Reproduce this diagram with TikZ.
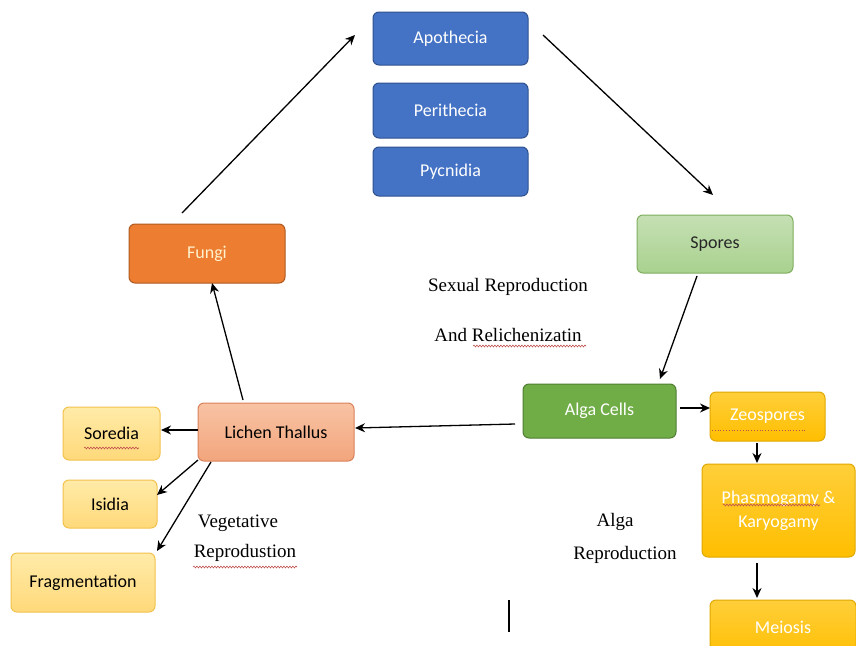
\documentclass[tikz,border=0pt]{standalone}
\usepackage{fontspec}
\setmainfont{Carlito}
\newfontfamily\serifface{Liberation Serif}
\usetikzlibrary{arrows.meta,decorations.pathmorphing}
\definecolor{blueF}{HTML}{4472C4}
\definecolor{blueD}{HTML}{2F528F}
\definecolor{sporeT}{HTML}{C5E0B4}
\definecolor{sporeB}{HTML}{A9D18E}
\definecolor{sporeD}{HTML}{7FAE5E}
\definecolor{fungF}{HTML}{ED7D31}
\definecolor{fungD}{HTML}{AE5A21}
\definecolor{algaF}{HTML}{70AD47}
\definecolor{algaD}{HTML}{507E32}
\definecolor{goldT}{HTML}{FFCF3A}
\definecolor{goldB}{HTML}{FFBE00}
\definecolor{goldD}{HTML}{E0A800}
\definecolor{lichT}{HTML}{F8C3A4}
\definecolor{lichB}{HTML}{F2A57C}
\definecolor{lichD}{HTML}{D9825A}
\definecolor{paleT}{HTML}{FFEBA8}
\definecolor{paleB}{HTML}{FFD97A}
\definecolor{paleD}{HTML}{F2C24E}
\definecolor{cream}{HTML}{FFF2CC}
\definecolor{spell}{HTML}{C0504D}
\begin{document}
\begin{tikzpicture}[x=1pt,y=-1pt,
  box/.style={rounded corners=6pt, line width=1pt, align=center, inner sep=2pt, font=\fontsize{18}{22}\selectfont},
  bluebox/.style={box, fill=blueF, draw=blueD, text=white},
  sporebox/.style={box, top color=sporeT, bottom color=sporeB, draw=sporeD, text=black!85},
  fungbox/.style={box, fill=fungF, draw=fungD, text=cream},
  algabox/.style={box, fill=algaF, draw=algaD, text=white},
  goldbox/.style={box, top color=goldT, bottom color=goldB, draw=goldD, text=white},
  lichbox/.style={box, top color=lichT, bottom color=lichB, draw=lichD, text=black},
  palebox/.style={box, top color=paleT, bottom color=paleB, draw=paleD, text=black},
  lbl/.style={font=\serifface\fontsize{19}{23}\selectfont, text=black, inner sep=0pt},
  arr/.style={-{Stealth[length=10pt,width=9pt]}, line width=1.3pt, black},
  wavy/.style={spell, line width=0.6pt, decorate, decoration={snake, amplitude=0.9pt, segment length=3pt}}
]
\useasboundingbox (0,0) rectangle (856,645);
\fill[white] (0,0) rectangle (856,645);

% top blue boxes
\node[bluebox, minimum width=155pt, minimum height=53pt] (apo) at (450.5,38.5) {Apothecia};
\node[bluebox, minimum width=155pt, minimum height=55pt] (peri) at (450.5,110.5) {Perithecia};
\node[bluebox, minimum width=155pt, minimum height=49pt] (pyc) at (450.5,171.5) {Pycnidia};

\node[sporebox, minimum width=156pt, minimum height=58pt] (spores) at (715,244) {Spores};
\node[fungbox, minimum width=156pt, minimum height=59pt] (fungi) at (207,253.5) {Fungi};
\node[algabox, minimum width=153pt, minimum height=54pt] (alga) at (599.5,411) {Alga Cells};
\node[goldbox, minimum width=115pt, minimum height=49pt] (zeo) at (767.5,416.5) {Zeospores};
\node[goldbox, minimum width=153pt, minimum height=93pt] (phas) at (778.5,510.5) {Phasmogamy \&\\[2pt] Karyogamy};
\node[goldbox, minimum width=146pt, minimum height=60pt, text depth=0pt] (mei) at (783,630) {\raisebox{6pt}{Meiosis}};
\node[lichbox, minimum width=156pt, minimum height=58pt] (lich) at (276,432) {Lichen Thallus};
\node[palebox, minimum width=97pt, minimum height=53pt] (sor) at (111.5,433.5) {Soredia};
\node[palebox, minimum width=94pt, minimum height=48pt] (isi) at (110,504) {Isidia};
\node[palebox, minimum width=144pt, minimum height=59pt] (frag) at (83,582.5) {Fragmentation};

% free-end coordinates
\coordinate (fungiTop) at (182,213);
\coordinate (apoIn) at (355,35);
\coordinate (apoOut) at (543,35);
\coordinate (sporeIn) at (713,195);
\coordinate (sporeOut) at (697,276);
\coordinate (algaIn) at (660,379);
\coordinate (algaL) at (515,424);
\coordinate (lichR) at (355,428);
\coordinate (algaR) at (680,408);
\coordinate (zeoL) at (710,408);
\coordinate (zeoB) at (757,443);
\coordinate (phasT) at (757,463);
\coordinate (phasB) at (757,563);
\coordinate (meiT) at (757,598);
\coordinate (lichT) at (243,400);
\coordinate (fungiB) at (212,283);
\coordinate (lichL) at (198,430);
\coordinate (sorR) at (161,430);
\coordinate (lichBL) at (198,460);
\coordinate (isiR) at (157,495);
\coordinate (lichB2) at (211,462);
\coordinate (fragR) at (157,551);

\draw[arr] (fungiTop) -- (apoIn);
\draw[arr] (apoOut) -- (sporeIn);
\draw[arr] (sporeOut) -- (algaIn);
\draw[arr] (algaL) -- (lichR);
\draw[arr] (algaR) -- (zeoL);
\draw[arr] (zeoB) -- (phasT);
\draw[arr] (phasB) -- (meiT);
\draw[arr] (lichT) -- (fungiB);
\draw[arr] (lichL) -- (sorR);
\draw[arr] (lichBL) -- (isiR);
\draw[arr] (lichB2) -- (fragR);

% stray vertical line
\coordinate (vl1) at (509,600);
\coordinate (vl2) at (509,632);
\draw[line width=1.2pt, black] (vl1) -- (vl2);

% labels
\node[lbl] (sex1) at (508,287) {Sexual Reproduction};
\node[lbl] (sex2) at (508,335) {And Relichenizatin};
\node[lbl] (veg1) at (238,523) {Vegetative};
\node[lbl] (veg2) at (245,553) {Reprodustion};
\node[lbl] (alg1) at (615,522) {Alga};
\node[lbl] (alg2) at (625,555) {Reproduction};

% spell-check underlines
\draw[wavy] (473,346) -- (586,346);
\draw[wavy] (193,567) -- (297,567);
\draw[wavy] (84,448) -- (139,448);
\draw[wavy] (723,505) -- (820,505);
\draw[spell, line width=0.8pt, dotted] (712,430) -- (805,430);
\end{tikzpicture}
\end{document}
